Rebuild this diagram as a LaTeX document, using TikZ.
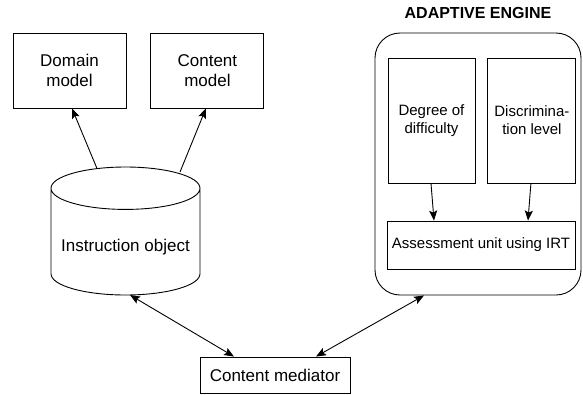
\documentclass[tikz,border=0pt]{standalone}
\usepackage{fontspec}
\setmainfont{Liberation Sans}
\usetikzlibrary{positioning}
\usetikzlibrary{shapes,arrows,arrows.meta}
\usetikzlibrary{calc}
\tikzstyle{line} = [draw, -{Stealth[length=10pt,width=8pt,inset=2pt]}, line width=0.9pt]
\tikzstyle{both} = [draw, {Stealth[length=10pt,width=8pt,inset=2pt]}-{Stealth[length=10pt,width=8pt,inset=2pt]}, line width=0.9pt]
\tikzstyle{term} = [draw, line width=0.9pt, align=center, inner sep=0pt]
\tikzstyle{big} = [font=\fontsize{17}{20}\selectfont]
\tikzstyle{small} = [font=\fontsize{15}{18}\selectfont]

\begin{document}
\begin{tikzpicture}[x=1pt, y=-1pt]
  \useasboundingbox (0,0) rectangle (583,394);

  % ============================ Models ========================================

  \node[term, big, minimum width=113pt, minimum height=75pt] (dm) at (69.5,70.5) {Domain\\model};
  \node[term, big, minimum width=113pt, minimum height=75pt, right=24pt of dm] (cm) {Content\\model};
  \node[term, big, cylinder, shape border rotate=90, aspect=0.33, anchor=shape center,
        minimum width=149pt, minimum height=128pt] (io) at (125.5,231)
        {\raisebox{-10pt}[0pt][0pt]{Instruction object}};

  % ========================== Adaptive engine =================================

  \node[term, rounded corners=25pt, minimum width=206pt, minimum height=262pt] (eng) at (478,164) {};
  \node[font=\fontsize{16}{19}\selectfont\bfseries, above=10pt of eng] (ttl) {ADAPTIVE ENGINE};
  \node[term, small, minimum width=87pt, minimum height=125pt] (dd) at (431.5,120.5) {Degree of\\difficulty};
  \node[term, small, minimum width=88pt, minimum height=125pt, right=12pt of dd] (dl) {Discrimina-\\tion level};
  \node[term, small, minimum width=188pt, minimum height=48pt] (au) at (481,245) {Assessment unit using IRT};

  % ============================= Mediator =====================================

  \node[term, big, minimum width=150pt, minimum height=36pt] (med) at (275,375) {Content mediator};

  % ============================= Connect ======================================
  \path[line]{
    ($(io.shape center)+(-28.5,-62.5)$) -- ([xshift=2.5pt]dm.south)};
  \path[line]{
    ($(io.shape center)+(54.5,-59)$) -- ([xshift=-1.5pt]cm.south)};
  \path[line]{
    ([xshift=-0.5pt]dd.south) -- ([xshift=-47pt]au.north)};
  \path[line]{
    ([xshift=-1pt]dl.south) -- ([xshift=47pt]au.north)};
  \path[both]{
    ($(io.shape center)+(4.5,64)$) -- ([xshift=-41pt]med.north)};
  \path[both]{
    ([xshift=-54pt]eng.south) -- ([xshift=41pt]med.north)};

\end{tikzpicture}
\end{document}
